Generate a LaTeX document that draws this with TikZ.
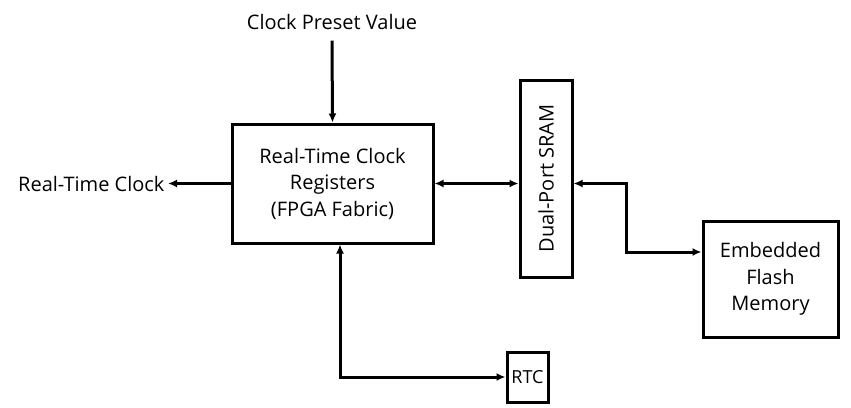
\documentclass[tikz,border=0pt]{standalone}
\usepackage{fontspec}
\setmainfont{Open Sans}
\usepackage{tikz}
\usetikzlibrary{arrows.meta}

\begin{document}
\begin{tikzpicture}[x=1pt, y=-1pt, line width=3pt,
        every node/.style={font=\fontsize{20}{26.5}\selectfont, align=center},
        block/.style={draw, rectangle, inner sep=0pt},
        link/.style={{Latex[length=9pt,width=8pt]}-{Latex[length=9pt,width=8pt]}},
        feed/.style={-{Latex[length=9pt,width=8pt]}}]
        \useasboundingbox (0,0) rectangle (851,407);

        % Blocks
        \node[block, minimum width=201pt, minimum height=119pt] (reg) at (332.5,183.5)
            {Real-Time Clock\\Registers\\(FPGA Fabric)};
        \node[block, minimum width=52pt, minimum height=197pt] (sram) at (546,178.5)
            {\rotatebox{90}{Dual-Port SRAM}};
        \node[block, minimum width=135pt, minimum height=116pt] (flash) at (770.5,279)
            {Embedded\\Flash\\Memory};
        \node[block, minimum width=41pt, minimum height=50pt,
            font=\fontsize{18}{22}\selectfont] (rtc) at (527.5,377) {RTC};

        % Free texts
        \node (preset) at (332,22) {Clock Preset Value};
        \node[anchor=east, inner sep=2pt] (rtcout) at (168,183.5) {Real-Time Clock};

        % Connections
        \draw[feed] ([yshift=-6pt]preset.south) -- (reg.north);
        \draw[feed] (reg.west) -- (rtcout.east);
        \draw[link] (reg.east) -- (reg.east -| sram.west);
        \draw[link] (reg.east -| sram.east) -- (626,183.5) |- ([yshift=27pt]flash.west);
        \draw[link] ([xshift=7.5pt]reg.south) |- (rtc.west);
\end{tikzpicture}
\end{document}
